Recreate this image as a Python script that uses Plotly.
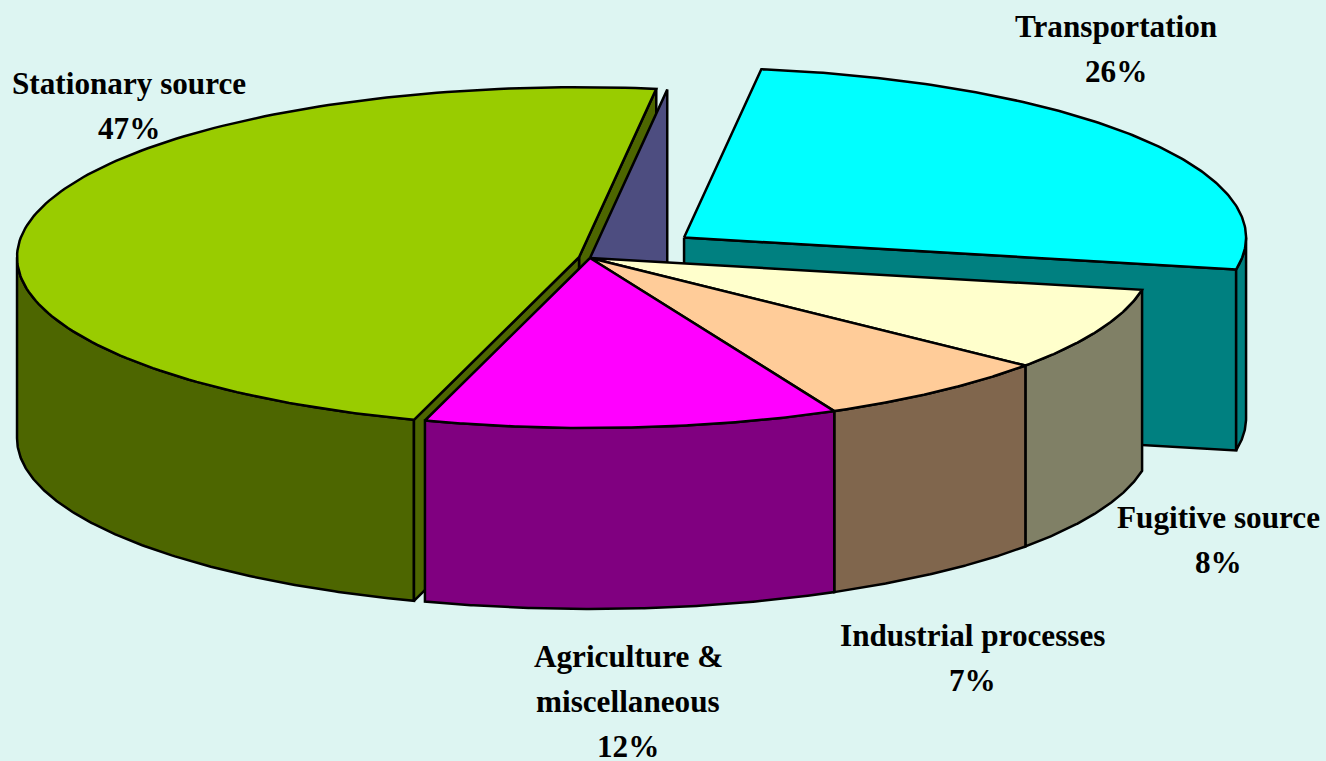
import numpy as np
import plotly.graph_objects as go

# ---- data -----------------------------------------------------------------
categories = ["Transportation", "Fugitive source", "Industrial processes",
              "Agriculture & miscellaneous", "Stationary source"]
shares = [25.8, 7.9, 6.95, 11.9, 47.45]

# ---- style / layout -------------------------------------------------------
explode = [0.206, 0.0, 0.0, 0.0, 0.02]
top_colors = ["#00FFFF", "#FFFFCC", "#FFCC99", "#FF00FF", "#99CC00"]
wall_colors = ["#008080", "#808066", "#80664D", "#800080", "#4D6600"]
back_wall_color = "#4D4D80"
background = "#DDF5F2"
W, H = 1326, 761
CX, CY, RX, RY, DEPTH = 590, 258, 562, 170, 181
START = 7.9
LINE = 2.5
label_lines = [
    ["Transportation"], ["Fugitive source"], ["Industrial processes"],
    ["Agriculture &", "miscellaneous"], ["Stationary source"],
]
label_pos = [(1115.5, 26), (1218.5, 517), (972, 635), (628, 656), (128.5, 83)]
LINE_STEP = 45
FONT = dict(family="Liberation Serif", size=31.2, color="black")

# ---- geometry from the values ---------------------------------------------
total = sum(shares)
edges = START + np.concatenate([[0], np.cumsum(shares)]) * 360 / total


def centre(i):
    mid = np.radians((edges[i] + edges[i + 1]) / 2)
    return (CX + explode[i] * RX * np.sin(mid), CY - explode[i] * RY * np.cos(mid))


def rim(c, deg):
    t = np.radians(np.asarray(deg, dtype=float))
    return c[0] + RX * np.sin(t), c[1] - RY * np.cos(t)


fig = go.Figure()


def poly(xs, ys, color):
    xs, ys = list(xs), list(ys)
    fig.add_trace(go.Scatter(x=xs + xs[:1], y=ys + ys[:1], mode="lines", fill="toself",
                             fillcolor=color, line=dict(color="black", width=LINE),
                             hoverinfo="skip", showlegend=False))


def top(i):
    c = centre(i)
    x, y = rim(c, np.linspace(edges[i], edges[i + 1], 160))
    poly([c[0], *x], [c[1], *y], top_colors[i])


def outer_wall(i):
    lo, hi = max(edges[i], 90), min(edges[i + 1], 270)
    if hi <= lo:
        return
    x, y = rim(centre(i), np.linspace(lo, hi, 160))
    poly([*x, *x[::-1]], [*y, *(y[::-1] + DEPTH)], wall_colors[i])


def cut_wall(c, deg, color):
    x, y = rim(c, deg)
    poly([c[0], x, x, c[0]], [c[1], y, y + DEPTH, c[1] + DEPTH], color)


# exploded transportation slice (back)
cut_wall(centre(0), edges[1], wall_colors[0])
outer_wall(0)
top(0)

# exploded stationary slice
cut_wall(centre(4), edges[5], wall_colors[4])
outer_wall(4)
cut_wall(centre(4), edges[4], wall_colors[4])
top(4)

# wall seen through the gap behind the centre
cut_wall((CX, CY), edges[0], back_wall_color)

# remaining slices
for i in (1, 2, 3):
    outer_wall(i)
for i in (1, 2, 3):
    top(i)

# ---- labels ---------------------------------------------------------------
annotations = []
for lines, share, (lx, ly) in zip(label_lines, shares, label_pos):
    for k, txt in enumerate(lines + [f"{round(share)}%"]):
        annotations.append(dict(x=lx, y=ly + k * LINE_STEP, text=f"<b>{txt}</b>",
                                showarrow=False, xanchor="center", yanchor="middle",
                                font=FONT))

fig.update_layout(
    width=W, height=H, margin=dict(l=0, r=0, t=0, b=0),
    paper_bgcolor=background, plot_bgcolor=background,
    xaxis=dict(range=[0, W], visible=False, fixedrange=True),
    yaxis=dict(range=[H, 0], visible=False, fixedrange=True),
    annotations=annotations, showlegend=False,
)
fig.write_html("out.html", config=dict(displayModeBar=False),
               post_script="document.body.style.margin='0';document.body.style.overflow='hidden';document.body.style.background='" + background + "';")
